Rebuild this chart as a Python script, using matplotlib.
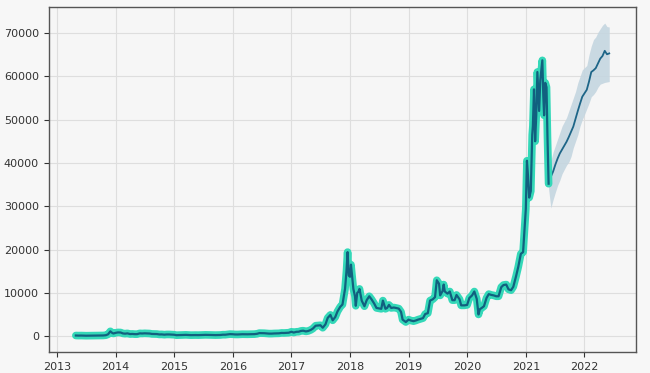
import pandas as pd
import matplotlib
matplotlib.use("Agg")
import matplotlib.pyplot as plt
import matplotlib.dates as mdates

# historical weekly-ish closing prices
hist_dates = [
    "2013-04-28", "2013-05-15", "2013-06-01", "2013-06-15", "2013-07-01", "2013-07-15",
    "2013-08-01", "2013-08-15", "2013-09-01", "2013-09-15", "2013-10-01", "2013-10-15",
    "2013-11-01", "2013-11-15", "2013-11-29", "2013-12-08", "2013-12-18",
    "2014-01-01", "2014-01-15", "2014-02-01", "2014-02-15", "2014-03-01", "2014-03-15",
    "2014-04-01", "2014-04-15", "2014-05-01", "2014-05-15", "2014-06-01", "2014-06-15",
    "2014-07-01", "2014-07-15", "2014-08-01", "2014-08-15", "2014-09-01", "2014-09-15",
    "2014-10-01", "2014-10-15", "2014-11-01", "2014-11-15", "2014-12-01", "2014-12-15",
    "2015-01-01", "2015-01-15", "2015-02-01", "2015-02-15", "2015-03-01", "2015-03-15",
    "2015-04-01", "2015-04-15", "2015-05-01", "2015-05-15", "2015-06-01", "2015-06-15",
    "2015-07-01", "2015-07-15", "2015-08-01", "2015-08-15", "2015-09-01", "2015-09-15",
    "2015-10-01", "2015-10-15", "2015-11-01", "2015-11-15", "2015-12-01", "2015-12-15",
    "2016-01-01", "2016-01-15", "2016-02-01", "2016-02-15", "2016-03-01", "2016-03-15",
    "2016-04-01", "2016-04-15", "2016-05-01", "2016-05-15", "2016-06-01", "2016-06-15",
    "2016-07-01", "2016-07-15", "2016-08-01", "2016-08-15", "2016-09-01", "2016-09-15",
    "2016-10-01", "2016-10-15", "2016-11-01", "2016-11-15", "2016-12-01", "2016-12-15",
    "2017-01-01", "2017-01-15", "2017-02-01", "2017-02-15", "2017-03-01", "2017-03-15",
    "2017-04-01", "2017-04-15", "2017-05-01", "2017-05-15", "2017-06-01", "2017-06-15",
    "2017-07-01", "2017-07-15", "2017-08-01", "2017-08-15", "2017-09-01", "2017-09-15",
    "2017-10-01", "2017-10-15", "2017-11-01", "2017-11-15", "2017-12-01", "2017-12-10",
    "2017-12-17", "2017-12-24", "2018-01-01", "2018-01-07", "2018-01-15", "2018-01-22",
    "2018-02-01", "2018-02-06", "2018-02-15", "2018-02-22", "2018-03-01", "2018-03-15",
    "2018-04-01", "2018-04-15", "2018-05-01", "2018-05-15", "2018-06-01", "2018-06-15",
    "2018-07-01", "2018-07-15", "2018-07-25", "2018-08-10", "2018-08-20", "2018-09-01",
    "2018-09-15", "2018-10-01", "2018-10-15", "2018-11-01", "2018-11-15", "2018-11-25",
    "2018-12-15", "2019-01-01", "2019-01-15", "2019-02-01", "2019-02-15", "2019-03-01",
    "2019-03-15", "2019-04-01", "2019-04-15", "2019-05-01", "2019-05-15", "2019-06-01",
    "2019-06-15", "2019-06-26", "2019-07-10", "2019-07-17", "2019-08-01", "2019-08-08",
    "2019-08-15", "2019-09-01", "2019-09-15", "2019-10-01", "2019-10-15", "2019-10-27",
    "2019-11-15", "2019-11-25", "2019-12-15", "2020-01-01", "2020-01-15", "2020-02-01",
    "2020-02-15", "2020-03-01", "2020-03-12", "2020-03-20", "2020-04-01", "2020-04-15",
    "2020-05-01", "2020-05-15", "2020-06-01", "2020-06-15", "2020-07-01", "2020-07-15",
    "2020-08-01", "2020-08-15", "2020-09-01", "2020-09-15", "2020-10-01", "2020-10-15",
    "2020-11-01", "2020-11-15", "2020-12-01", "2020-12-15", "2021-01-01", "2021-01-08",
    "2021-01-15", "2021-01-22", "2021-02-01", "2021-02-10", "2021-02-14", "2021-02-21",
    "2021-02-28", "2021-03-07", "2021-03-14", "2021-03-25", "2021-04-01", "2021-04-14",
    "2021-04-20", "2021-04-25", "2021-05-02", "2021-05-10", "2021-05-16", "2021-05-23",
]
hist_price = [
    135, 115, 125, 100, 90, 97,
    105, 100, 140, 130, 125, 145,
    205, 420, 1100, 800, 600,
    750, 850, 830, 620, 560, 630,
    470, 500, 450, 450, 630, 600,
    640, 620, 590, 500, 480, 470,
    380, 395, 330, 380, 380, 345,
    315, 210, 225, 235, 260, 285,
    245, 220, 235, 237, 225, 250,
    260, 285, 280, 260, 230, 230,
    237, 255, 325, 320, 380, 455,
    430, 380, 375, 405, 430, 415,
    415, 430, 450, 455, 535, 690,
    675, 665, 605, 570, 575, 610,
    615, 640, 730, 715, 755, 780,
    1000, 820, 990, 1010, 1190, 1250,
    1080, 1180, 1420, 1750, 2400, 2450,
    2500, 1930, 2720, 4200, 4900, 3650,
    4400, 5700, 6750, 7300, 10900, 15000,
    19400, 14000, 13700, 16500, 13600, 10900,
    9200, 7000, 10000, 10200, 10900, 8200,
    6900, 8300, 9200, 8500, 7500, 6500,
    6400, 6300, 8200, 6300, 6500, 7200,
    6500, 6600, 6500, 6350, 5600, 3800,
    3250, 3800, 3600, 3450, 3600, 3800,
    3950, 4150, 5100, 5300, 8200, 8500,
    9000, 12900, 12100, 9400, 10400, 11900,
    10300, 9800, 10300, 8300, 8300, 9500,
    8500, 7100, 7100, 7200, 8800, 9400,
    10300, 8600, 5000, 6200, 6500, 6900,
    8800, 9700, 9500, 9400, 9200, 9200,
    11300, 11800, 11900, 10800, 10600, 11400,
    13800, 16000, 19000, 19400, 29400, 40500,
    36800, 32000, 33500, 46500, 48500, 57000,
    45000, 51000, 61000, 52000, 59000, 63700,
    55500, 51000, 58500, 57500, 46000, 35200,
]

# forecast (yhat) with uncertainty interval
fc_dates = [
    "2021-05-23", "2021-06-06", "2021-06-20", "2021-07-04", "2021-07-18", "2021-08-01",
    "2021-08-15", "2021-08-29", "2021-09-12", "2021-09-26", "2021-10-10", "2021-10-24",
    "2021-11-07", "2021-11-21", "2021-12-05", "2021-12-19", "2022-01-02", "2022-01-16",
    "2022-01-30", "2022-02-13", "2022-02-27", "2022-03-13", "2022-03-27", "2022-04-10",
    "2022-04-24", "2022-05-08", "2022-05-22", "2022-06-05",
]
fc_yhat = [
    35300, 36800, 38000, 39600, 41000, 42200,
    43100, 44000, 44900, 46000, 47200, 48400,
    50200, 52000, 53700, 55300, 56100, 56900,
    58800, 61000, 61400, 61900, 63000, 64100,
    64700, 65900, 65100, 65300,
]
fc_upper = [
    36500, 40500, 42500, 44000, 45500, 47000,
    48500, 49500, 50500, 52000, 53500, 55000,
    56500, 58500, 60000, 61500, 62000, 62500,
    65000, 67000, 68500, 69100, 70200, 71000,
    71800, 72300, 71500, 71400,
]
fc_lower = [
    34000, 29600, 31500, 33200, 34800, 36000,
    37500, 38500, 39500, 40200, 41500, 43500,
    45000, 46500, 48500, 50000, 51200, 52500,
    53800, 55300, 55800, 56500, 57500, 58200,
    58400, 58600, 58700, 58800,
]

hist_dates = pd.to_datetime(hist_dates)
fc_dates = pd.to_datetime(fc_dates)

fig = plt.figure(figsize=(6.5, 3.73), dpi=100, facecolor="#f7f7f7")
ax = fig.add_axes([0.075, 0.056, 0.903, 0.925])
ax.set_facecolor("#f6f6f6")

ax.fill_between(fc_dates, fc_lower, fc_upper, color="#c5d6e0", alpha=0.9, linewidth=0, zorder=1)
ax.plot(fc_dates, fc_yhat, color="#1d6587", linewidth=1.3, zorder=2)

# glow + dark line for the actual prices
ax.plot(hist_dates, hist_price, color="#34d8b8", linewidth=5.5, solid_capstyle="round",
        solid_joinstyle="round", zorder=3)
ax.plot(hist_dates, hist_price, color="#11607f", linewidth=1.6, zorder=4)

ax.set_xlim(pd.Timestamp("2012-11-10"), pd.Timestamp("2022-11-17"))
ax.set_ylim(-3700, 76000)
ax.set_yticks(range(0, 70001, 10000))
ax.xaxis.set_major_locator(mdates.YearLocator())
ax.xaxis.set_major_formatter(mdates.DateFormatter("%Y"))

ax.grid(True, color="#dedede", linewidth=0.8)
ax.set_axisbelow(True)
for s in ax.spines.values():
    s.set_color("#555555")
    s.set_linewidth(1.0)
ax.tick_params(labelsize=8, colors="#333333", length=3.5)

fig.savefig("out.png", dpi=100, facecolor=fig.get_facecolor())
